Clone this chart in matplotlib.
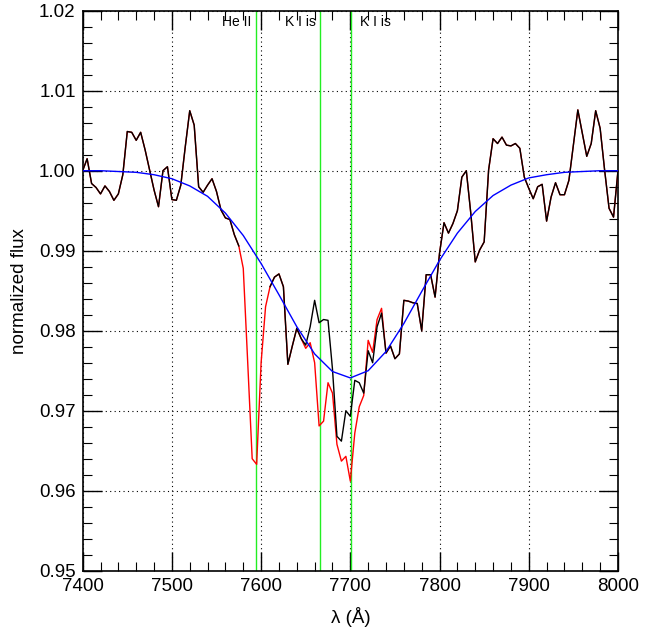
import numpy as np
import matplotlib.pyplot as plt
from matplotlib.ticker import MultipleLocator

plt.rcParams['font.family'] = ['Liberation Sans', 'DejaVu Sans']

# spectrum, 5 A sampling
wave = np.arange(7400, 8001, 5)
flux_raw = np.array([
    1.0000, 1.0015, 0.9984, 0.9979, 0.9971, 0.9981, 0.9974, 0.9963, 0.9971, 0.9995,
    1.0049, 1.0048, 1.0038, 1.0048, 1.0026, 1.0001, 0.9976, 0.9955, 1.0000, 1.0005,
    0.9964, 0.9963, 0.9982, 1.0030, 1.0075, 1.0057, 0.9980, 0.9973, 0.9982, 0.9990,
    0.9974, 0.9951, 0.9941, 0.9939, 0.9920, 0.9906, 0.9878, 0.9760, 0.9640, 0.9633,
    0.9760, 0.9830, 0.9855, 0.9867, 0.9871, 0.9855, 0.9758, 0.9781, 0.9803, 0.9790,
    0.9778, 0.9785, 0.9760, 0.9681, 0.9687, 0.9735, 0.9722, 0.9658, 0.9637, 0.9643,
    0.9612, 0.9672, 0.9705, 0.9719, 0.9788, 0.9773, 0.9814, 0.9828, 0.9772, 0.9781,
    0.9765, 0.9771, 0.9838, 0.9837, 0.9835, 0.9834, 0.9800, 0.9870, 0.9870, 0.9842,
    0.9897, 0.9935, 0.9922, 0.9934, 0.9950, 0.9992, 1.0000, 0.9947, 0.9886, 0.9901,
    0.9911, 1.0001, 1.0040, 1.0034, 1.0042, 1.0032, 1.0031, 1.0034, 1.0028, 0.9992,
    0.9978, 0.9965, 0.9980, 0.9983, 0.9937, 0.9967, 0.9985, 0.9970, 0.9970, 0.9988,
    1.0032, 1.0076, 1.0047, 1.0018, 1.0034, 1.0075, 1.0053, 1.0001, 0.9953, 0.9942,
    1.0000,
])

# corrected spectrum differs around the K I lines, and is masked at He II
kwin_wave = np.arange(7645, 7741, 5)
kwin_flux = [0.9790, 0.9782, 0.9805, 0.9838, 0.9810, 0.9814, 0.9813, 0.9752, 0.9668, 0.9662,
             0.9700, 0.9693, 0.9738, 0.9735, 0.9722, 0.9775, 0.9760, 0.9805, 0.9822, 0.9772]
mask_lo, mask_hi = 7580, 7605

# fitted profile (blue)
fit_wave = np.arange(7400, 8001, 20)
fit_flux = [1.0000, 1.0000, 0.9999, 0.9998, 0.9995, 0.9990, 0.9981, 0.9968, 0.9947, 0.9919,
            0.9884, 0.9845, 0.9805, 0.9771, 0.9749, 0.9741, 0.9750, 0.9774, 0.9809, 0.9849,
            0.9888, 0.9922, 0.9949, 0.9969, 0.9982, 0.9991, 0.9995, 0.9998, 0.9999, 1.0000,
            1.0000]

line_wave = [7594.4, 7666.4, 7700.4]
line_names = ['He II', 'K I is', 'K I is']
label_dx = [-3.5, -3.5, 6.5]
label_ha = ['right', 'right', 'left']

flux_corr = flux_raw.copy()
flux_corr[np.isin(wave, kwin_wave)] = kwin_flux
flux_corr[(wave >= mask_lo) & (wave <= mask_hi)] = np.nan

fig = plt.figure(figsize=(6.64, 6.34), dpi=100)
ax = fig.add_axes([0.1245, 0.0998, 0.8062, 0.8833])

ax.grid(True, which='major', color='k', linestyle=(0, (1, 3)), linewidth=0.8)
ax.set_axisbelow(True)

for lw_, name, dx, ha in zip(line_wave, line_names, label_dx, label_ha):
    ax.axvline(lw_, color='#22ee22', linewidth=1.0, zorder=2)
    ax.annotate(name, (lw_, 1.0181), xytext=(dx, 0), textcoords='offset points',
                ha=ha, va='baseline', fontsize=10)

ax.plot(wave, flux_raw, color='red', linewidth=1.0, zorder=3)
ax.plot(wave, flux_corr, color='black', linewidth=1.0, zorder=4)
ax.plot(fit_wave, fit_flux, color='blue', linewidth=1.0, zorder=5)

ax.set_xlim(7400, 8000)
ax.set_ylim(0.95, 1.02)
ax.xaxis.set_major_locator(MultipleLocator(100))
ax.xaxis.set_minor_locator(MultipleLocator(20))
ax.yaxis.set_major_locator(MultipleLocator(0.01))
ax.yaxis.set_minor_locator(MultipleLocator(0.002))
ax.yaxis.set_major_formatter(plt.FormatStrFormatter('%.2f'))
ax.tick_params(which='both', direction='in', top=True, right=True, labelsize=13.5, pad=5)
ax.tick_params(which='major', length=14, width=1.0)
ax.tick_params(which='minor', length=6.5, width=0.8)
for s in ax.spines.values():
    s.set_linewidth(1.2)

ax.set_xlabel('λ (Å)', fontsize=13.5, labelpad=9)
ax.set_ylabel('normalized flux', fontsize=13.5, labelpad=8)

fig.savefig('out.png', dpi=100)
